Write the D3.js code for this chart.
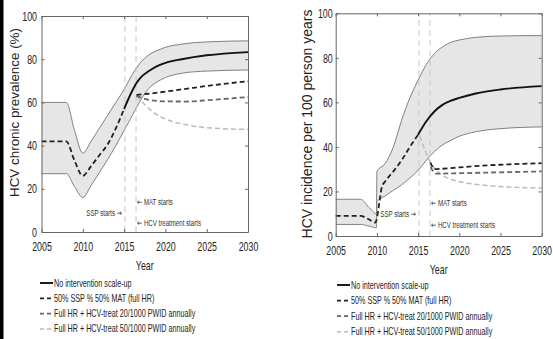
<!DOCTYPE html>
<html>
<head>
<meta charset="utf-8">
<script src="https://cdn.jsdelivr.net/npm/d3@7"></script>
<style>
  html, body { margin: 0; padding: 0; background: #fff; }
  svg { display: block; font-family: "Liberation Sans", Arial, sans-serif; }
</style>
</head>
<body>
<svg id="chart" width="553" height="339"></svg>
<script>
// ---- data ----
const xTicks = [2005, 2010, 2015, 2020, 2025, 2030];
const yTicks = [0, 20, 40, 60, 80, 100];
const markerYears = [2015.1, 2016.45]; // SSP start, MAT / HCV treatment start

const legendLabels = [
  'No intervention scale-up',
  '50% SSP % 50% MAT (full HR)',
  'Full HR + HCV-treat 20/1000 PWID annually',
  'Full HR + HCV-treat 50/1000 PWID annually'
];

// prevalence (left panel)
const prevYears = [2005, 2008, 2009, 2010, 2011, 2012, 2013, 2014, 2015, 2016, 2017, 2018, 2019, 2020, 2022, 2025, 2030];
const prevUpper = [60, 60, 47, 36.5, 42, 48, 54, 60, 66, 73, 78.5, 82, 84, 85.5, 87, 88, 88.5];
const prevLower = [27, 27, 21, 16, 21.5, 27.5, 33.5, 40, 47, 54, 61, 66.5, 69.5, 71.5, 73.5, 74.5, 75];
const prevHist = [[2005, 42], [2008, 42], [2009, 33], [2010, 26], [2011, 30.5], [2012, 35.5], [2013, 40.5], [2014, 48], [2015, 57]];
const prevBase = [[2015, 57], [2016, 65.5], [2016.5, 69], [2017, 71.5], [2018, 74.5], [2019, 76.8], [2020, 78.3], [2022, 80], [2025, 81.8], [2030, 83.3]];
const prevSSP = [[2016.5, 63.5], [2018, 64], [2020, 65], [2022.5, 66.3], [2025, 67.6], [2030, 69.8]];
const prevT20 = [[2016.5, 63], [2018, 61.2], [2020, 60.5], [2022.5, 60.4], [2025, 61], [2030, 62.5]];
const prevT50 = [[2016.5, 63], [2017.5, 59], [2018.5, 55.5], [2020, 52.3], [2022.5, 49.7], [2025, 48.3], [2030, 47.5]];

// incidence (right panel)
const incYears = [2005, 2008, 2009, 2009.95, 2010, 2011, 2012, 2013, 2014, 2015, 2016, 2017, 2018, 2019, 2020, 2022, 2025, 2030];
const incUpper = [16.5, 16.5, 13, 10, 29, 32.5, 40, 52, 62, 70, 77, 82, 85, 87, 88, 89.2, 89.8, 90];
const incLower = [5.2, 5.2, 4.5, 3.7, 15.5, 18, 20.5, 23, 26, 29.5, 34, 38, 41, 43, 44.8, 46.8, 48.2, 49];
const incHist = [[2005, 9], [2008, 9], [2009, 7.5], [2009.8, 6], [2010, 8], [2010.3, 15], [2010.6, 22], [2011, 24.5], [2012, 29], [2013, 34], [2014, 40], [2015, 45.5]];
const incBase = [[2015, 45.5], [2016, 51.5], [2017, 56], [2018, 59], [2019, 60.8], [2020, 62], [2022, 64], [2025, 65.8], [2030, 67.3]];
const incSSP = [[2016.5, 33], [2017, 30], [2018, 30.2], [2020, 30.8], [2022, 31.4], [2025, 32], [2030, 32.7]];
const incT20 = [[2016.5, 31], [2017.2, 28], [2020, 28.2], [2025, 28.6], [2030, 29]];
const incT50 = [[2015.2, 45], [2016.5, 33], [2017.5, 28.5], [2019, 25.5], [2021, 23.7], [2023, 22.8], [2025, 22.2], [2030, 21.5]];

const svg = d3.select('#chart');

// black strip on the left edge of the scan
svg.append('rect').attr('x', 0).attr('y', 0).attr('width', 3.5).attr('height', 339).attr('fill', '#000');

const SX = 0.68; // the source image is squeezed horizontally

function squeezedText(g, x, y, str, size, anchor, sx) {
  return g.append('text')
    .attr('transform', `translate(${x},${y}) scale(${sx || SX},1)`)
    .attr('text-anchor', anchor || 'start')
    .attr('font-size', size)
    .attr('fill', '#222')
    .text(str);
}

// arrow glyphs come from DejaVu, the rest from Liberation
function arrowText(g, x, y, parts, size, anchor) {
  const t = g.append('text')
    .attr('transform', `translate(${x},${y}) scale(${SX},1)`)
    .attr('text-anchor', anchor)
    .attr('font-size', size)
    .attr('fill', '#333');
  parts.forEach(p => {
    const isArrow = p === '\u2192' || p === '\u2190';
    t.append('tspan').attr('font-family', isArrow ? 'DejaVu Sans' : null).text(p);
  });
  return t;
}

const styles = [
  { stroke: '#111', width: 1.9, dash: null },
  { stroke: '#222', width: 1.8, dash: '5,3' },
  { stroke: '#666', width: 1.8, dash: '5,3' },
  { stroke: '#bbb', width: 1.5, dash: '5,3' }
];

function panel(cfg) {
  const x = d3.scaleLinear().domain([2005, 2030]).range([cfg.left, cfg.right]);
  const y = d3.scaleLinear().domain([0, 100]).range([cfg.bottom, cfg.top]);
  const g = svg.append('g');

  // uncertainty band
  const band = cfg.years.map((yr, i) => ({ yr, lo: cfg.lower[i], hi: cfg.upper[i] }));
  g.append('path').datum(band)
    .attr('fill', '#e6e6e6')
    .attr('d', d3.area().x(d => x(d.yr)).y0(d => y(d.lo)).y1(d => y(d.hi)).curve(d3.curveMonotoneX));
  ['hi', 'lo'].forEach(k => {
    g.append('path').datum(band)
      .attr('fill', 'none').attr('stroke', '#808080').attr('stroke-width', 1)
      .attr('d', d3.line().x(d => x(d.yr)).y(d => y(d[k])).curve(d3.curveMonotoneX));
  });

  // start-of-intervention markers
  markerYears.forEach(yr => {
    g.append('line')
      .attr('x1', x(yr)).attr('x2', x(yr)).attr('y1', y(0)).attr('y2', y(100))
      .attr('stroke', '#c8c8c8').attr('stroke-width', 1).attr('stroke-dasharray', '6,4');
  });

  const line = d3.line().x(d => x(d[0])).y(d => y(d[1])).curve(d3.curveMonotoneX);
  const draw = (data, s) => g.append('path').datum(data)
    .attr('fill', 'none').attr('stroke', s.stroke).attr('stroke-width', s.width)
    .attr('stroke-dasharray', s.dash).attr('d', line);

  draw(cfg.t50, styles[3]);
  draw(cfg.t20, styles[2]);
  draw(cfg.ssp, styles[1]);
  draw(cfg.hist, styles[1]);
  draw(cfg.base, styles[0]);

  // axes, MATLAB style box with inward ticks
  const xb = g.append('g').attr('transform', `translate(0,${y(0)})`)
    .call(d3.axisBottom(x).tickValues(xTicks).tickFormat(d3.format('d')).tickSizeInner(-3).tickSizeOuter(0));
  xb.selectAll('text').attr('y', 10).attr('dy', '0.71em').attr('transform', `scale(${SX},1)`).attr('font-size', 13);
  const xt = g.append('g').attr('transform', `translate(0,${y(100)})`)
    .call(d3.axisTop(x).tickValues(xTicks).tickFormat('').tickSizeInner(-3).tickSizeOuter(0));
  const yl = g.append('g').attr('transform', `translate(${x(2005)},0)`)
    .call(d3.axisLeft(y).tickValues(yTicks).tickSizeInner(-3).tickSizeOuter(0));
  yl.selectAll('text').attr('x', -cfg.yLabelGap / SX).attr('transform', `scale(${SX},1)`).attr('font-size', 13);
  const yr = g.append('g').attr('transform', `translate(${x(2030)},0)`)
    .call(d3.axisRight(y).tickValues(yTicks).tickFormat('').tickSizeInner(-3).tickSizeOuter(0));
  [xb, xt, yl, yr].forEach(a => {
    a.selectAll('.domain').attr('stroke', '#666');
    a.selectAll('.tick line').attr('stroke', '#666');
    a.selectAll('text').attr('fill', '#222');
    a.attr('font-family', null);
  });

  // annotations
  arrowText(g, x(markerYears[0]) - 3, y(cfg.sspY), ['SSP starts ', '\u2192'], 9, 'end');
  arrowText(g, x(markerYears[1]) + 1, y(cfg.matY), ['\u2190', ' MAT starts'], 9, 'start');
  arrowText(g, x(markerYears[1]) + 1, y(cfg.hcvY), ['\u2190', ' HCV treatment starts'], 9, 'start');

  // axis titles
  squeezedText(g, (cfg.left + cfg.right) / 2, cfg.bottom + 38, 'Year', 13, 'middle');
  g.append('text')
    .attr('transform', `translate(${cfg.yTitleX},${cfg.yTitleY}) rotate(-90)`)
    .attr('text-anchor', 'middle').attr('font-size', cfg.yTitleSize).attr('fill', '#222')
    .text(cfg.yTitle);

  // legend
  legendLabels.forEach((lab, i) => {
    const ly = cfg.legendY + i * cfg.legendStep;
    const s = styles[i];
    g.append('line')
      .attr('x1', cfg.legendX).attr('x2', cfg.legendX + 13).attr('y1', ly).attr('y2', ly)
      .attr('stroke', s.stroke).attr('stroke-width', s.width)
      .attr('stroke-dasharray', s.dash ? '4,3' : null);
    squeezedText(g, cfg.legendX + 14, ly + 3.5, lab, 10, 'start', 0.72);
  });
}

panel({
  left: 41.5, right: 248, top: 16, bottom: 232,
  years: prevYears, upper: prevUpper, lower: prevLower,
  hist: prevHist, base: prevBase, ssp: prevSSP, t20: prevT20, t50: prevT50,
  sspY: 7.5, matY: 12.5, hcvY: 3,
  yLabelGap: 4.5,
  yTitle: 'HCV chronic prevalence (%)', yTitleX: 19, yTitleY: 112.5, yTitleSize: 13.4,
  legendX: 40, legendY: 283, legendStep: 15.3
});

panel({
  left: 335.7, right: 541.7, top: 13.3, bottom: 236,
  years: incYears, upper: incUpper, lower: incLower,
  hist: incHist, base: incBase, ssp: incSSP, t20: incT20, t50: incT50,
  sspY: 8.5, matY: 13.5, hcvY: 3.5,
  yLabelGap: 3,
  yTitle: 'HCV incidence per 100 person years', yTitleX: 312, yTitleY: 124, yTitleSize: 14,
  legendX: 337, legendY: 285, legendStep: 15.6
});
</script>
</body>
</html>
